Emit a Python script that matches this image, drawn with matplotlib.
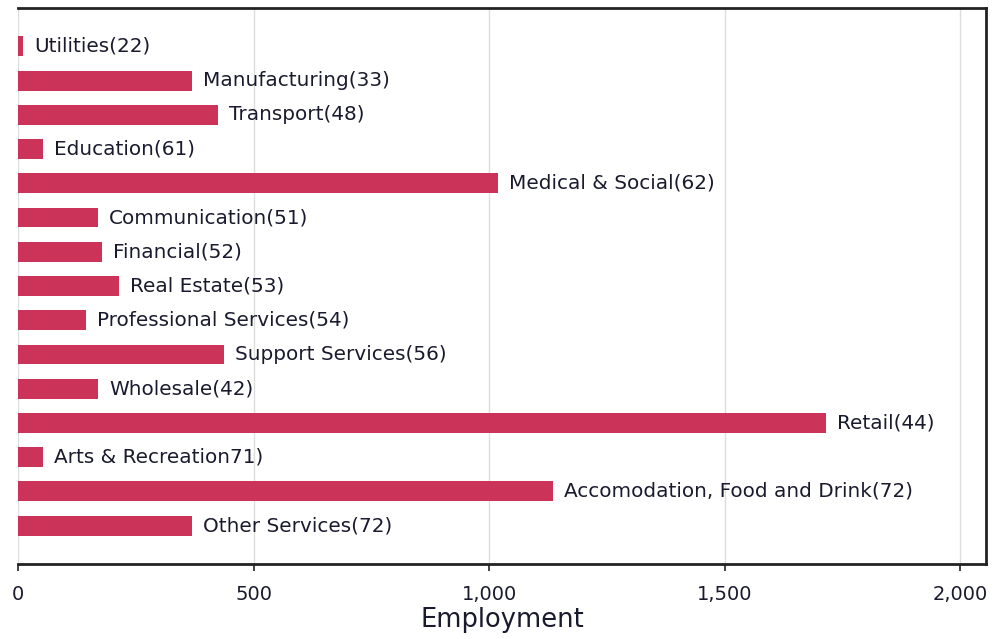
import matplotlib
matplotlib.use("Agg")
import matplotlib.pyplot as plt
from matplotlib.ticker import FuncFormatter

plt.rcParams["font.family"] = ["DejaVu Sans"]

# 行业及就业人数
sectors = [
    "Utilities(22)", "Manufacturing(33)", "Transport(48)", "Education(61)",
    "Medical & Social(62)", "Communication(51)", "Financial(52)", "Real Estate(53)",
    "Professional Services(54)", "Support Services(56)", "Wholesale(42)", "Retail(44)",
    "Arts & Recreation71)", "Accomodation, Food and Drink(72)", "Other Services(72)",
]
employment = [10, 369, 425, 53, 1019, 170, 178, 214, 144, 437, 170, 1715, 53, 1136, 369]
xticks = [0, 500, 1000, 1500, 2000]

fig = plt.figure(figsize=(9.98, 6.39), dpi=100)
ax = fig.add_axes([18 / 998, 1 - 564 / 639, (986 - 18) / 998, (564 - 8) / 639])

ypos = list(range(len(sectors)))
ax.barh(ypos, employment, height=0.58, color="#CC3358", zorder=2)
for y, v, name in zip(ypos, employment, sectors):
    ax.annotate(name, (v, y), xytext=(8, 0), textcoords="offset points",
                va="center", ha="left", fontsize=14.4, color="#1a1a2e", zorder=3)

ax.set_ylim(len(sectors) - 1 + 1.12, -1.12)
ax.set_xlim(0, 2055)
ax.set_yticks([])
ax.set_xticks(xticks)
ax.xaxis.set_major_formatter(FuncFormatter(lambda v, p: f"{int(v):,}"))
ax.tick_params(axis="x", length=5, width=1.2, labelsize=14, pad=10,
               color="#222222", labelcolor="#1a1a2e")
ax.grid(axis="x", color="#dddddd", linewidth=1, zorder=0)
ax.set_xlabel("Employment", fontsize=18.5, labelpad=2, color="#1a1a2e")

for s in ["top", "right", "bottom"]:
    ax.spines[s].set_color("#222222")
    ax.spines[s].set_linewidth(2)
ax.spines["left"].set_visible(False)

fig.savefig("out.png", dpi=100)
